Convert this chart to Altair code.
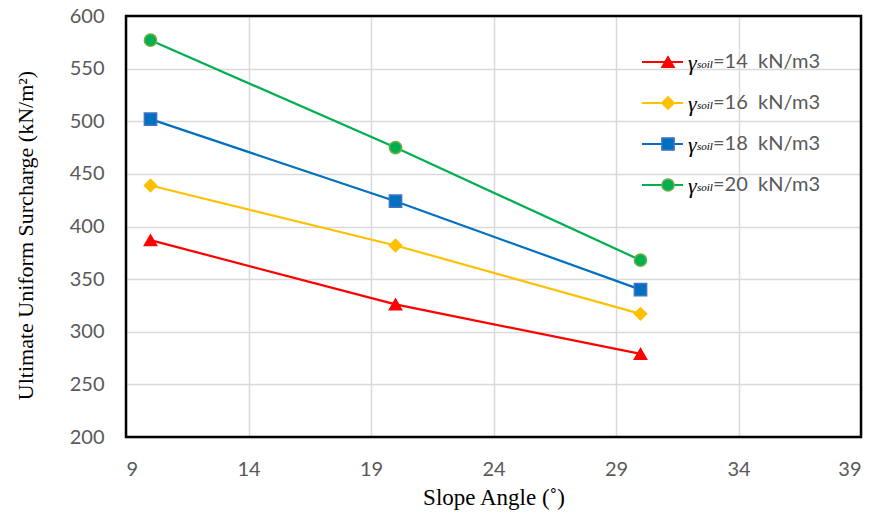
import altair as alt
import pandas as pd

# ---- data ----
slope_angle = [10, 20, 30]
unit_weights = ["14", "16", "18", "20"]
q_gamma14 = [387, 326, 279]
q_gamma16 = [439, 382, 317]
q_gamma18 = [502, 424, 340]
q_gamma20 = [577, 475, 368]
x_ticks = [9, 14, 19, 24, 29, 34, 39]
y_ticks = [200, 250, 300, 350, 400, 450, 500, 550, 600]

line_colors = ["#FF0000", "#FFC000", "#0070C0", "#00B050"]
marker_strokes = ["#FF0000", "#FFC000", "#4472C4", "#70AD47"]
marker_shapes = ["triangle-up", "diamond", "square", "circle"]

series_values = [q_gamma14, q_gamma16, q_gamma18, q_gamma20]
rows = []
for w, vals in zip(unit_weights, series_values):
    for a, v in zip(slope_angle, vals):
        rows.append({"w": w, "angle": a, "q": v})
df = pd.DataFrame(rows)

legend_df = pd.DataFrame({
    "w": unit_weights,
    "label": ["=" + w + "\u00a0 kN/m3" for w in unit_weights],
})

W, H = 735, 421
LABEL_FONT = "Lato"
TITLE_FONT = "Liberation Serif"

color_scale = alt.Scale(domain=unit_weights, range=line_colors)
stroke_scale = alt.Scale(domain=unit_weights, range=marker_strokes)
shape_scale = alt.Scale(domain=unit_weights, range=marker_shapes)

x_enc = alt.X("angle:Q", scale=alt.Scale(domain=[9, 39], nice=False),
              axis=alt.Axis(values=x_ticks, title="Slope Angle (\u02da)",
                            titleY=60, titleBaseline="middle", titleFontSize=23))
y_enc = alt.Y("q:Q", scale=alt.Scale(domain=[200, 600], nice=False),
              axis=alt.Axis(values=y_ticks,
                            title="Ultimate Uniform Surcharge (kN/m\u00b2)",
                            titleX=-101, titleY=219, titleAlign="center",
                            titleBaseline="middle", titleFontSize=22))

base = alt.Chart(df)
lines = base.mark_line(strokeWidth=2.2).encode(
    x=x_enc, y=y_enc,
    color=alt.Color("w:N", scale=color_scale, legend=None),
)
points = base.mark_point(filled=True, size=150, opacity=1, strokeWidth=1.5).encode(
    x=x_enc, y=y_enc,
    shape=alt.Shape("w:N", scale=shape_scale, legend=None),
    fill=alt.Fill("w:N", scale=color_scale, legend=None),
    stroke=alt.Stroke("w:N", scale=stroke_scale, legend=None),
)
data_layer = alt.layer(lines, points)

# ---- custom legend (top right inside the plot) ----
y_leg = alt.Y("w:N", axis=None,
              scale=alt.Scale(type="point", domain=unit_weights, range=[46, 169], padding=0))
lbase = alt.Chart(legend_df)
leg_rule = lbase.mark_rule(strokeWidth=2.2).encode(
    x=alt.value(516), x2=alt.value(557), y=y_leg,
    color=alt.Color("w:N", scale=color_scale, legend=None),
)
leg_pts = lbase.mark_point(filled=True, size=150, opacity=1, strokeWidth=1.5).encode(
    x=alt.value(542), y=y_leg,
    shape=alt.Shape("w:N", scale=shape_scale, legend=None),
    fill=alt.Fill("w:N", scale=color_scale, legend=None),
    stroke=alt.Stroke("w:N", scale=stroke_scale, legend=None),
)
leg_gamma = lbase.mark_text(text="\u03b3", font=TITLE_FONT, fontStyle="italic", fontSize=22,
                            align="left", baseline="middle", color="black", dy=1).encode(
    x=alt.value(562), y=y_leg)
leg_soil = lbase.mark_text(text="soil", font=TITLE_FONT, fontStyle="italic", fontSize=11,
                           align="left", baseline="middle", color="black", dy=3).encode(
    x=alt.value(571), y=y_leg)
leg_label = lbase.mark_text(font=LABEL_FONT, fontSize=20, align="left", baseline="middle",
                            color="#595959").encode(
    x=alt.value(587), y=y_leg, text="label:N")
legend_layer = alt.layer(leg_rule, leg_pts, leg_gamma, leg_soil, leg_label)

border = alt.Chart(pd.DataFrame({"b": [0]})).mark_rect(
    filled=False, stroke="black", strokeWidth=2.5).encode(
    x=alt.value(0), x2=alt.value("width"), y=alt.value(0), y2=alt.value("height"))

chart = alt.layer(data_layer, legend_layer, border).resolve_scale(
    y="independent"
).properties(
    width=W, height=H,
    autosize=alt.AutoSizeParams(type="none"),
    padding={"left": 126, "top": 16, "right": 15, "bottom": 85},
    background="white",
).configure_view(
    stroke=None,
).configure_axis(
    grid=True, gridColor="#D9D9D9", gridWidth=1.5,
    domain=False, ticks=False,
    labelFont=LABEL_FONT, labelFontSize=20, labelColor="#595959", labelPadding=22,
    titleFont=TITLE_FONT, titleFontWeight="normal", titleColor="black",
)

chart.save("out.html", embed_options={"renderer": "svg", "actions": False})
